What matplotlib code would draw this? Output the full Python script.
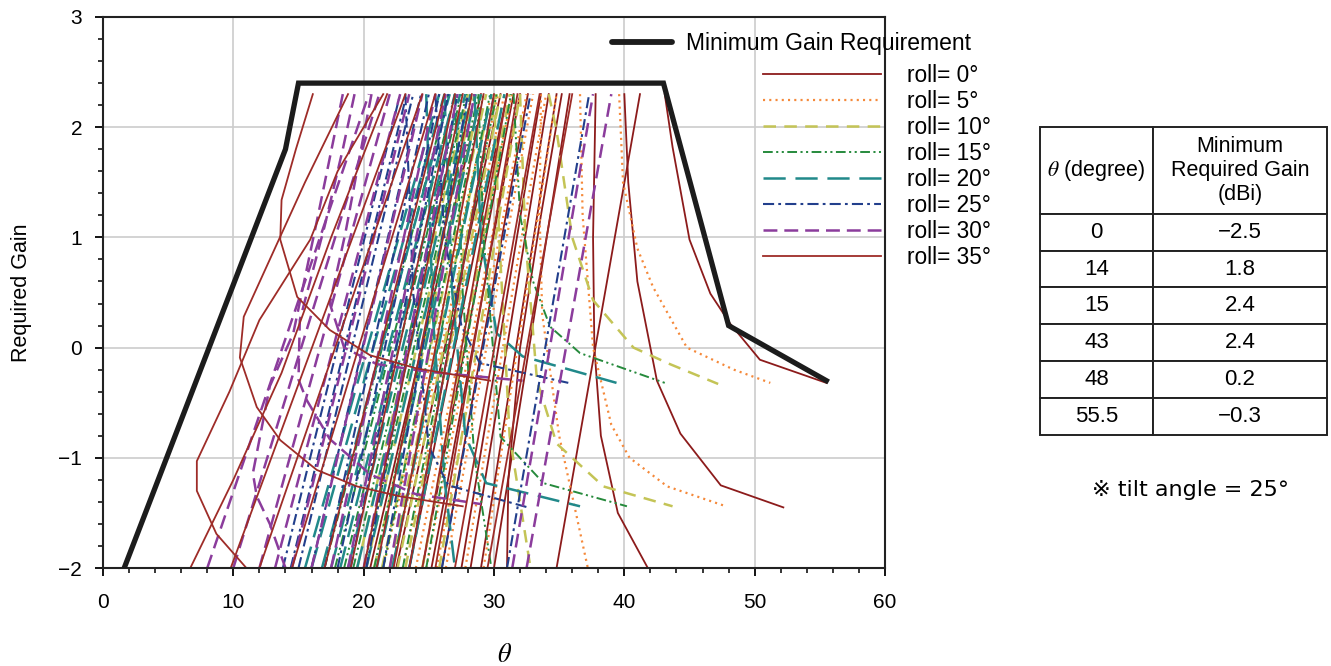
import numpy as np
import matplotlib
matplotlib.use('Agg')
import matplotlib.pyplot as plt
from matplotlib.lines import Line2D

plt.rcParams['font.family'] = ['Liberation Sans', 'DejaVu Sans']
plt.rcParams['mathtext.fontset'] = 'stix'
plt.rcParams['lines.scale_dashes'] = False

# minimum gain requirement (table values)
theta_req = [0, 14, 15, 43, 48, 55.5]
gain_req = [-2.5, 1.8, 2.4, 2.4, 0.2, -0.3]

roll_angles = [0, 5, 10, 15, 20, 25, 30, 35]

# top / bottom of every computed curve
g_top = 2.3
g_bot = -2.0

# rising lines: theta where the curve leaves the bottom (-2) and where it hits the top (2.3)
r0_lo = [20.5, 22.5, 23.5, 24.5, 25.2, 26.0, 27.5, 28.2, 29.0, 30.0, 34.8]
r0_hi = [29.0, 30.5, 31.0, 31.5, 32.0, 32.6, 33.6, 34.2, 34.8, 35.8, 41.2]
r5_lo = [21.5, 22.2, 23.0, 24.0, 24.8, 25.6, 26.3, 27.8, 29.2]
r5_hi = [29.8, 30.3, 30.8, 31.4, 32.0, 32.5, 33.0, 34.0, 34.8]
r10_lo = [19.5, 20.2, 20.8, 21.4, 22.0, 22.6, 23.2, 24.5, 25.8]
r10_hi = [28.0, 28.5, 29.0, 29.4, 29.8, 30.2, 30.5, 31.2, 32.0]
r15_lo = [17.0, 17.8, 18.5, 19.2, 20.0, 20.8, 21.5, 22.2, 23.0, 24.8]
r15_hi = [26.5, 27.0, 27.5, 27.9, 28.3, 28.8, 29.2, 29.7, 30.2, 31.3]
r20_lo = [15.5, 16.0, 16.8, 17.5, 18.2, 18.8, 19.5, 20.2, 21.0, 22.2, 23.5]
r20_hi = [25.8, 26.2, 26.6, 27.0, 27.4, 27.8, 28.2, 28.6, 29.0, 29.8, 30.8]
r25_lo = [13.8, 14.4, 15.0, 16.0, 17.0, 18.0, 19.0, 20.2, 21.5, 23.5, 26.0, 31.0]
r25_hi = [22.8, 23.3, 23.8, 24.4, 25.0, 25.8, 26.5, 27.2, 28.0, 30.0, 32.8, 37.3]
r30_lo = [8.0, 10.0, 12.0, 13.2, 14.5, 16.0, 17.5, 18.8, 20.0, 22.0, 31.4, 32.5]
r30_hi = [20.4, 21.2, 22.0, 22.8, 23.5, 24.5, 25.5, 26.3, 27.2, 28.5, 37.6, 39.0]
r35_lo = [9.8, 12.0, 14.5, 17.0, 19.0, 20.0, 21.0, 22.3, 23.5, 24.5, 25.5, 27.0, 29.5]
r35_hi = [23.2, 24.5, 25.5, 26.2, 27.0, 27.6, 28.3, 29.2, 30.0, 31.0, 31.8, 33.5, 36.0]

# bent curves (theta list, gain list)
r0_tails = [
    ([43.1, 43.7, 45.0, 46.6, 48.1, 50.4, 55.5], [2.3, 1.82, 0.98, 0.49, 0.22, -0.11, -0.32]),
    ([40.0, 40.3, 41.0, 42.5, 44.3, 47.4, 52.2], [2.3, 1.5, 0.6, -0.3, -0.78, -1.25, -1.45]),
    ([37.8, 37.6, 37.7, 38.2, 39.5, 41.8], [2.3, 1.0, 0.0, -0.8, -1.5, -2.0]),
    ([31.0, 31.1, 32.0, 33.6, 35.2], [-2.0, -1.2, 0.0, 1.2, 2.3]),
]
r5_tails = [
    ([39.6, 39.9, 41.0, 42.2, 44.8, 48.4, 51.2], [2.3, 1.5, 0.9, 0.55, 0.0, -0.2, -0.32]),
    ([36.6, 36.8, 37.6, 39.0, 40.4, 43.3, 47.8], [2.3, 1.2, 0.0, -0.7, -1.0, -1.26, -1.44]),
    ([33.6, 33.5, 33.7, 35.0, 37.2], [2.3, 1.2, 0.3, -0.8, -2.0]),
]
r10_tails = [
    ([34.2, 34.8, 36.0, 37.6, 40.7, 43.5, 47.2], [2.3, 1.97, 1.0, 0.43, 0.0, -0.15, -0.33]),
    ([32.0, 32.4, 33.3, 34.8, 38.4, 43.7], [2.3, 1.0, -0.3, -0.87, -1.26, -1.44]),
    ([30.0, 30.4, 31.2, 32.8], [2.3, 1.0, -0.8, -2.0]),
]
r15_tails = [
    ([31.5, 32.0, 33.0, 34.3, 36.6, 43.1], [2.3, 1.2, 0.6, 0.19, -0.05, -0.32]),
    ([28.8, 29.2, 30.5, 33.8, 40.2], [2.3, 1.0, -0.81, -1.23, -1.44]),
    ([27.0, 27.6, 28.5, 29.8], [2.3, 0.5, -1.0, -2.0]),
]
r20_tails = [
    ([28.5, 29.0, 30.2, 32.2, 39.4], [2.3, 1.0, 0.13, -0.08, -0.32]),
    ([26.2, 26.8, 27.8, 29.4, 36.6], [2.3, 0.5, -0.8, -1.23, -1.44]),
    ([24.8, 25.3, 26.2, 27.0], [2.3, 0.3, -1.2, -2.0]),
]
r25_tails = [
    ([25.5, 26.2, 27.5, 28.9, 35.7], [2.3, 1.0, 0.2, -0.14, -0.32]),
    ([23.2, 23.8, 25.0, 26.5, 32.6], [2.3, 0.5, -0.9, -1.25, -1.45]),
]
r30_tails = [
    ([20.6, 19.8, 18.6, 17.4, 18.5, 21.0, 25.0, 32.2], [2.3, 1.8, 1.04, 0.4, 0.0, -0.15, -0.22, -0.3]),
    ([19.3, 18.4, 17.0, 15.1, 15.0, 15.6, 17.4, 20.5, 24.0, 29.0],
     [2.3, 1.8, 1.1, 0.25, -0.29, -0.47, -0.83, -1.15, -1.33, -1.42]),
    ([18.4, 16.5, 14.6, 12.8, 11.5, 11.8, 12.8, 14.0], [2.3, 1.2, 0.13, -0.35, -1.14, -1.35, -1.6, -2.0]),
]
r35_tails = [
    ([16.1, 14.8, 13.7, 13.6, 14.9, 17.4, 20.5, 24.1, 29.7], [2.3, 1.8, 1.34, 0.98, 0.46, 0.16, -0.07, -0.19, -0.3]),
    ([18.8, 15.5, 12.3, 10.8, 10.5, 11.8, 13.6, 16.4, 19.5, 22.8, 27.6],
     [2.3, 1.5, 0.67, 0.28, -0.09, -0.54, -0.84, -1.11, -1.26, -1.35, -1.44]),
    ([21.5, 18.0, 15.9, 12.0, 9.7, 7.2, 7.2, 8.7, 11.0], [2.3, 1.6, 0.98, 0.25, -0.4, -1.03, -1.3, -1.69, -2.0]),
    ([6.7, 10.0, 13.7, 17.5, 21.8], [-2.0, -1.2, -0.23, 1.0, 2.3]),
]

roll_lo = [r0_lo, r5_lo, r10_lo, r15_lo, r20_lo, r25_lo, r30_lo, r35_lo]
roll_hi = [r0_hi, r5_hi, r10_hi, r15_hi, r20_hi, r25_hi, r30_hi, r35_hi]
roll_tails = [r0_tails, r5_tails, r10_tails, r15_tails, r20_tails, r25_tails, r30_tails, r35_tails]

# styles per roll
roll_colors = ['#8c1b1b', '#f5893a', '#c4c456', '#268a3c', '#21898a', '#223f8c', '#8b3c9c', '#9e2c28']
roll_styles = ['-', (0, (1.5, 3)), (0, (9, 6)), (0, (7, 2.5, 1.5, 2.5, 1.5, 2.5)),
               (0, (16, 7)), (0, (8, 3, 2, 3)), (0, (10, 5)), '-']
roll_widths = [1.3, 1.6, 1.8, 1.4, 1.8, 1.5, 1.8, 1.3]

# table
tbl_theta = ['0', '14', '15', '43', '48', '55.5']
tbl_gain = ['\u22122.5', '1.8', '2.4', '2.4', '0.2', '\u22120.3']

fig = plt.figure(figsize=(13.31, 6.66), dpi=100)
ax = fig.add_axes([103 / 1331, 1 - 568 / 666, 782 / 1331, 551 / 666])

for k in range(len(roll_angles)):
    kw = dict(color=roll_colors[k], linestyle=roll_styles[k], linewidth=roll_widths[k], zorder=2)
    for lo, hi in zip(roll_lo[k], roll_hi[k]):
        ax.plot([lo, hi], [g_bot, g_top], **kw)
    for th, g in roll_tails[k]:
        ax.plot(th, g, **kw)

ax.plot(theta_req, gain_req, color='#1c1c1c', linewidth=3.8, zorder=5, solid_joinstyle='miter')

ax.set_xlim(0, 60)
ax.set_ylim(-2, 3)
ax.set_xticks(np.arange(0, 61, 10))
ax.set_xticks(np.arange(0, 61, 2), minor=True)
ax.set_yticks(np.arange(-2, 3.1, 1))
ax.set_yticks(np.arange(-2, 3.01, 0.2), minor=True)
ax.grid(True, which='major', color='#cccccc', linewidth=1.2, zorder=0)
ax.set_axisbelow(True)
ax.tick_params(which='major', direction='out', length=6, width=1.3, labelsize=15, pad=9)
ax.tick_params(which='minor', direction='out', length=3.5, width=1.1)
ax.tick_params(axis='x', pad=12)
for sp in ax.spines.values():
    sp.set_linewidth(1.5)
    sp.set_color('#222222')
ax.set_ylabel('Required Gain', fontsize=15.5, labelpad=19)
fig.text(505 / 1331, 1 - 655 / 666, r'$\theta$', fontsize=19, ha='center', va='center')

# legends
h_req = [Line2D([], [], color='#1c1c1c', linewidth=4.2, solid_capstyle='round')]
fig.legend(h_req, ['Minimum Gain Requirement'], loc='upper left',
           bbox_to_anchor=(612 / 1331, 1 - 32 / 666), frameon=False, fontsize=16.5,
           handlelength=2.6, handletextpad=0.65, borderpad=0, borderaxespad=0)

h_roll = [Line2D([], [], color=roll_colors[k], linestyle=roll_styles[k], linewidth=roll_widths[k])
          for k in range(len(roll_angles))]
lab_roll = ['roll= %d\u00b0' % r for r in roll_angles]
fig.legend(h_roll, lab_roll, loc='upper left', bbox_to_anchor=(763 / 1331, 1 - 64 / 666),
           frameon=False, fontsize=16.3, handlelength=5.2, handletextpad=1.15,
           labelspacing=0.13, borderpad=0, borderaxespad=0)

# table on the right
tax = fig.add_axes([1040 / 1331, 1 - 435 / 666, 287 / 1331, 308 / 666])
tax.axis('off')
cells = [[a, b] for a, b in zip(tbl_theta, tbl_gain)]
tb = tax.table(cellText=cells, colLabels=[r'$\theta$ (degree)', 'Minimum\nRequired Gain\n(dBi)'],
               cellLoc='center', colWidths=[0.394, 0.606], bbox=[0, 0, 1, 1])
tb.auto_set_font_size(False)
tb.set_fontsize(16)
for (r, c), cell in tb.get_celld().items():
    cell.set_linewidth(1.4)
    cell.set_edgecolor('#222222')
    cell.set_height(87 if r == 0 else 37)
    if r == 0:
        cell.get_text().set_fontsize(15.5)

fig.text(1190 / 1331, 1 - 490 / 666, '\u203b tilt angle = 25\u00b0', fontsize=16,
         ha='center', va='center', family=['DejaVu Sans', 'Liberation Sans'])

fig.savefig('out.png', dpi=100)
